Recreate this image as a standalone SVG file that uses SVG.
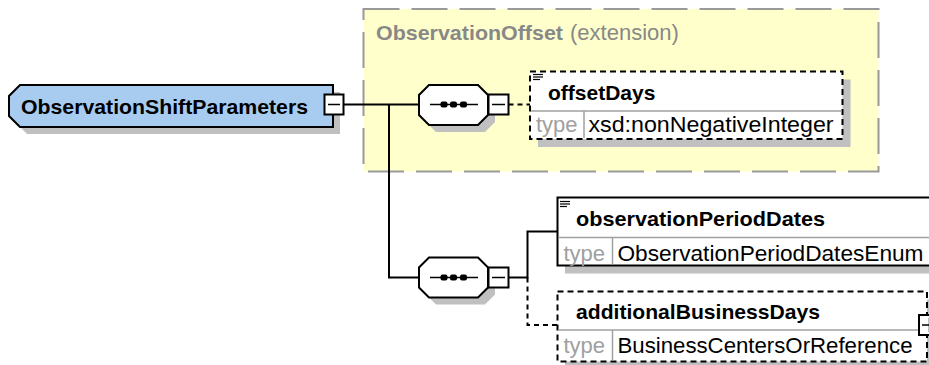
<svg xmlns="http://www.w3.org/2000/svg" width="929" height="365" viewBox="0 0 929 365">
<style>
.bg{fill:#ffffff}
.shadow{fill:#c0c0c0;stroke:none}
.solid{fill:#ffffff;stroke:#000;stroke-width:2}
.dashbox{fill:#ffffff;stroke:#000;stroke-width:2;stroke-dasharray:6,4}
.div{stroke:#a0a0a0;stroke-width:1.5;fill:none}
.conn{stroke:#000;stroke-width:2;fill:none}
.conn-d{stroke:#000;stroke-width:2;fill:none;stroke-dasharray:5,4}
.sym{stroke:#000;stroke-width:1.5;fill:none}
.doc{stroke:#000;stroke-width:1.2}
.name{font-family:"Liberation Sans",Arial,sans-serif;font-weight:bold;font-size:21px;fill:#000}
.lbl{font-family:"Liberation Sans",Arial,sans-serif;font-size:22px;fill:#a0a0a0}
.val{font-family:"Liberation Sans",Arial,sans-serif;font-size:22px;fill:#000}
.ext{font-family:"Liberation Sans",Arial,sans-serif;fill:#888888}
</style>
<rect class="bg" x="0" y="0" width="929" height="365"/>

<g id="ext-ObservationOffset">
<rect x="363.5" y="9" width="515" height="162.5" fill="#ffffcc" stroke="#999999" stroke-width="2" stroke-dasharray="36,12"/>
<text class="ext" x="376" y="40" font-size="21" font-weight="bold" textLength="187" lengthAdjust="spacingAndGlyphs">ObservationOffset</text>
<text class="ext" x="570" y="40" font-size="22">(extension)</text>
</g>

<g id="connectors">
<line class="conn" x1="343.5" y1="104.5" x2="419" y2="104.5"/>
<polyline class="conn" points="389,104.5 389,277.5 419,277.5"/>
<line class="conn-d" x1="508.5" y1="104.5" x2="530" y2="104.5"/>
<polyline class="conn" points="508.5,277.5 527.5,277.5 527.5,231.5 557.5,231.5"/>
<polyline class="conn-d" points="527.5,277.5 527.5,325 557.5,325"/>
</g>

<g id="node-ObservationShiftParameters">
<polygon class="shadow" points="27,92 340,92 340,134 27,134 16,123 16,103"/>
<polygon points="20,85 333,85 333,127 20,127 9,116 9,96" fill="#a8cbf0" stroke="#000" stroke-width="2"/>
<text class="name" x="21" y="114" textLength="287" lengthAdjust="spacingAndGlyphs">ObservationShiftParameters</text>
<rect class="solid" x="324.5" y="94.5" width="19" height="20"/>
<line class="sym" x1="328" y1="104.5" x2="340" y2="104.5"/>
</g>

<g id="seq-1">
<polygon class="shadow" points="436,92 485,92 495,102 495,122 485,132 436,132 426,122 426,102"/>
<polygon class="solid" points="429,85 478,85 488,95 488,115 478,125 429,125 419,115 419,95"/>
<line class="sym" x1="430" y1="104.5" x2="478" y2="104.5"/>
<rect x="440.5" y="101.5" width="7" height="6" rx="2"/>
<rect x="450" y="101.5" width="7" height="6" rx="2"/>
<rect x="460" y="101.5" width="7" height="6" rx="2"/>
<rect class="solid" x="488.5" y="94.5" width="20" height="20"/>
<line class="sym" x1="492" y1="104.5" x2="505" y2="104.5"/>
</g>

<g id="el-offsetDays">
<rect class="shadow" x="538" y="79.5" width="312.5" height="67.5"/>
<rect class="dashbox" x="530" y="71.5" width="312.5" height="67.5"/>
<line class="div" x1="531" y1="111" x2="841.5" y2="111"/>
<line class="div" x1="584" y1="111" x2="584" y2="138"/>
<line class="doc" x1="533" y1="74.5" x2="543" y2="74.5"/>
<line class="doc" x1="533" y1="77" x2="543" y2="77"/>
<line class="doc" x1="533" y1="79.5" x2="540" y2="79.5"/>
<text class="name" x="548" y="99.5">offsetDays</text>
<text class="lbl" x="536" y="132">type</text>
<text class="val" x="588.5" y="132" textLength="245" lengthAdjust="spacingAndGlyphs">xsd:nonNegativeInteger</text>
</g>

<g id="seq-2">
<polygon class="shadow" points="436,264.5 485,264.5 495,274.5 495,294.5 485,304.5 436,304.5 426,294.5 426,274.5"/>
<polygon class="solid" points="429,257.5 478,257.5 488,267.5 488,287.5 478,297.5 429,297.5 419,287.5 419,267.5"/>
<line class="sym" x1="430" y1="277.5" x2="478" y2="277.5"/>
<rect x="440.5" y="274.5" width="7" height="6" rx="2"/>
<rect x="450" y="274.5" width="7" height="6" rx="2"/>
<rect x="460" y="274.5" width="7" height="6" rx="2"/>
<rect class="solid" x="488.5" y="267.5" width="20" height="20"/>
<line class="sym" x1="492" y1="277.5" x2="505" y2="277.5"/>
</g>

<g id="el-observationPeriodDates">
<rect class="shadow" x="565" y="205.5" width="380" height="68"/>
<rect class="solid" x="557.5" y="197.5" width="380" height="68"/>
<line class="div" x1="558.5" y1="237.5" x2="936" y2="237.5"/>
<line class="div" x1="612.5" y1="237.5" x2="612.5" y2="264.5"/>
<line class="doc" x1="560" y1="201.5" x2="570" y2="201.5"/>
<line class="doc" x1="560" y1="204" x2="570" y2="204"/>
<line class="doc" x1="560" y1="206.5" x2="567" y2="206.5"/>
<text class="name" x="576" y="225.5" textLength="249" lengthAdjust="spacingAndGlyphs">observationPeriodDates</text>
<text class="lbl" x="563.5" y="260.5">type</text>
<text class="val" x="617.5" y="260.5" textLength="306" lengthAdjust="spacingAndGlyphs">ObservationPeriodDatesEnum</text>
</g>

<g id="el-additionalBusinessDays">
<rect class="shadow" x="565" y="299.5" width="369.5" height="70"/>
<rect class="dashbox" x="557.5" y="291.5" width="369.5" height="70"/>
<line class="div" x1="558.5" y1="330" x2="926" y2="330"/>
<line class="div" x1="612.5" y1="330" x2="612.5" y2="360.5"/>
<text class="name" x="576" y="318.5" textLength="244" lengthAdjust="spacingAndGlyphs">additionalBusinessDays</text>
<text class="lbl" x="563.5" y="352.5">type</text>
<text class="val" x="617.5" y="352.5" textLength="295" lengthAdjust="spacingAndGlyphs">BusinessCentersOrReference</text>
<rect class="solid" x="919" y="315" width="20" height="20"/>
<line class="sym" x1="922" y1="325" x2="936" y2="325"/>
<line class="sym" x1="929.5" y1="318" x2="929.5" y2="332"/>
</g>
</svg>
